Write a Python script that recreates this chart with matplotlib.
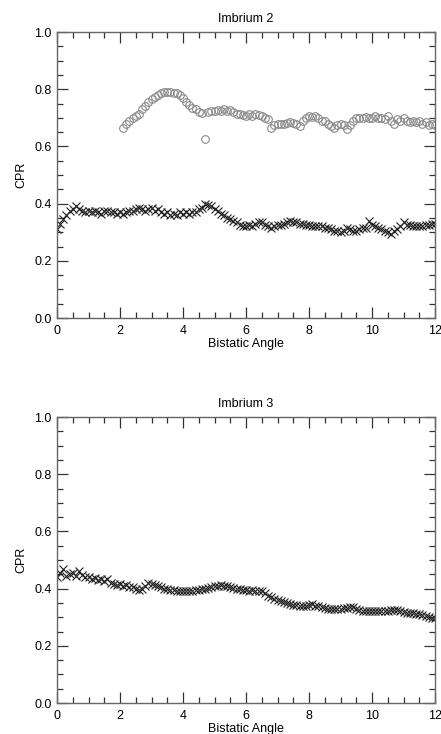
import numpy as np
import matplotlib
matplotlib.use("Agg")
import matplotlib.pyplot as plt
from matplotlib.ticker import MultipleLocator

plt.rcParams['font.family'] = ['Liberation Sans', 'DejaVu Sans']

# ---- data ----
angle_all = np.round(np.arange(121) * 0.1, 1)      # 0.0 .. 12.0
angle_circ = np.round(2.1 + np.arange(100) * 0.1, 1)  # 2.1 .. 12.0

imb2_cross = [
    0.31, 0.33, 0.345, 0.36, 0.375, 0.38, 0.39, 0.38, 0.375, 0.37,
    0.375, 0.37, 0.375, 0.37, 0.365, 0.375, 0.375, 0.37, 0.37, 0.365,
    0.37, 0.365, 0.37, 0.375, 0.375, 0.38, 0.385, 0.38, 0.375, 0.38,
    0.385, 0.375, 0.38, 0.37, 0.365, 0.37, 0.36, 0.365, 0.36, 0.37,
    0.365, 0.37, 0.365, 0.37, 0.37, 0.38, 0.385, 0.40, 0.395, 0.39,
    0.38, 0.375, 0.365, 0.36, 0.35, 0.345, 0.34, 0.335, 0.325, 0.32,
    0.32, 0.325, 0.32, 0.33, 0.335, 0.335, 0.325, 0.32, 0.315, 0.32,
    0.325, 0.325, 0.33, 0.335, 0.34, 0.335, 0.335, 0.33, 0.33, 0.325,
    0.325, 0.32, 0.32, 0.32, 0.32, 0.315, 0.315, 0.31, 0.305, 0.305,
    0.30, 0.305, 0.315, 0.31, 0.305, 0.305, 0.31, 0.315, 0.315, 0.34,
    0.325, 0.32, 0.315, 0.31, 0.305, 0.30, 0.295, 0.305, 0.31, 0.32,
    0.335, 0.325, 0.325, 0.32, 0.32, 0.32, 0.32, 0.325, 0.325, 0.33,
    0.33,
]

imb2_circ = [
    0.663, 0.68, 0.69, 0.70, 0.705, 0.715, 0.73, 0.74, 0.755,
    0.765, 0.772, 0.78, 0.785, 0.79, 0.79, 0.79, 0.787, 0.785, 0.778,
    0.77, 0.755, 0.745, 0.735, 0.73, 0.722, 0.718, 0.626, 0.72, 0.725,
    0.725, 0.728, 0.725, 0.73, 0.725, 0.727, 0.72, 0.715, 0.713, 0.71,
    0.708, 0.712, 0.705, 0.713, 0.71, 0.708, 0.70, 0.695, 0.665, 0.675,
    0.678, 0.68, 0.68, 0.683, 0.685, 0.683, 0.68, 0.672, 0.69, 0.70,
    0.705, 0.703, 0.705, 0.70, 0.69, 0.688, 0.68, 0.67, 0.665, 0.675,
    0.68, 0.675, 0.66, 0.675, 0.69, 0.70, 0.70, 0.70, 0.702, 0.70,
    0.70, 0.705, 0.698, 0.70, 0.695, 0.705, 0.69, 0.68, 0.695, 0.69,
    0.70, 0.69, 0.685, 0.69, 0.685, 0.69, 0.68, 0.685, 0.675, 0.68,
    0.675,
]

imb3_cross = [
    0.442, 0.456, 0.47, 0.444, 0.45, 0.455, 0.445, 0.462, 0.447, 0.44,
    0.44, 0.435, 0.438, 0.43, 0.432, 0.425, 0.432, 0.42, 0.415, 0.413,
    0.415, 0.41, 0.412, 0.405, 0.404, 0.40, 0.395, 0.40, 0.41, 0.418,
    0.415, 0.413, 0.41, 0.405, 0.40, 0.398, 0.395, 0.395, 0.393, 0.392,
    0.392, 0.39, 0.39, 0.393, 0.395, 0.395, 0.398, 0.40, 0.403, 0.405,
    0.408, 0.41, 0.413, 0.41, 0.41, 0.405, 0.402, 0.40, 0.398, 0.395,
    0.395, 0.393, 0.395, 0.393, 0.393, 0.39, 0.385, 0.375, 0.37, 0.365,
    0.36, 0.355, 0.352, 0.348, 0.345, 0.344, 0.342, 0.34, 0.34, 0.338,
    0.342, 0.345, 0.34, 0.338, 0.335, 0.333, 0.33, 0.328, 0.33, 0.328,
    0.33, 0.332, 0.333, 0.335, 0.334, 0.33, 0.325, 0.323, 0.32, 0.32,
    0.322, 0.32, 0.322, 0.32, 0.322, 0.323, 0.325, 0.325, 0.325, 0.322,
    0.318, 0.316, 0.314, 0.315, 0.312, 0.31, 0.308, 0.305, 0.30, 0.298,
    0.296,
]

titles = ["Imbrium 2", "Imbrium 3"]
xticks = [0, 2, 4, 6, 8, 10, 12]
yticks = [0.0, 0.2, 0.4, 0.6, 0.8, 1.0]

W, H = 441, 734
fig = plt.figure(figsize=(W / 100, H / 100), dpi=100)

def make_ax(top_px, bottom_px):
    left = 57 / W
    width = (435 - 57) / W
    bottom = 1 - bottom_px / H
    height = (bottom_px - top_px) / H
    ax = fig.add_axes([left, bottom, width, height])
    ax.set_xlim(0, 12)
    ax.set_ylim(0, 1.0)
    ax.set_xticks(xticks)
    ax.set_xticklabels([str(t) for t in xticks])
    ax.set_yticks(yticks)
    ax.set_yticklabels([f"{t:.1f}" for t in yticks])
    ax.xaxis.set_minor_locator(MultipleLocator(0.5))
    ax.yaxis.set_minor_locator(MultipleLocator(0.05))
    ax.tick_params(which='both', direction='in', top=True, right=True,
                   color='#333333', width=0.9, labelsize=9)
    ax.tick_params(axis='x', which='both', pad=5)
    ax.tick_params(axis='y', which='both', pad=4)
    ax.tick_params(which='major', length=8)
    ax.tick_params(which='minor', length=4.5)
    for s in ax.spines.values():
        s.set_color('#666666')
        s.set_linewidth(1.0)
    ax.set_xlabel("Bistatic Angle", fontsize=9, labelpad=1)
    ax.set_ylabel("CPR", fontsize=9, labelpad=5)
    return ax

ax1 = make_ax(32, 318)
ax1.set_title(titles[0], fontsize=9, pad=7)
ax1.plot(angle_all, imb2_cross, linestyle='none', marker='x', markersize=5.5,
         markeredgewidth=0.8, color='#222222')
ax1.plot(angle_circ, imb2_circ, linestyle='none', marker='o', markersize=5.5,
         markerfacecolor='none', markeredgewidth=0.8, markeredgecolor='#8a8a8a')

ax2 = make_ax(417, 703)
ax2.set_title(titles[1], fontsize=9, pad=7)
ax2.plot(angle_all, imb3_cross, linestyle='none', marker='x', markersize=5.5,
         markeredgewidth=0.8, color='#222222')

fig.savefig("out.png", dpi=100, facecolor='white')
